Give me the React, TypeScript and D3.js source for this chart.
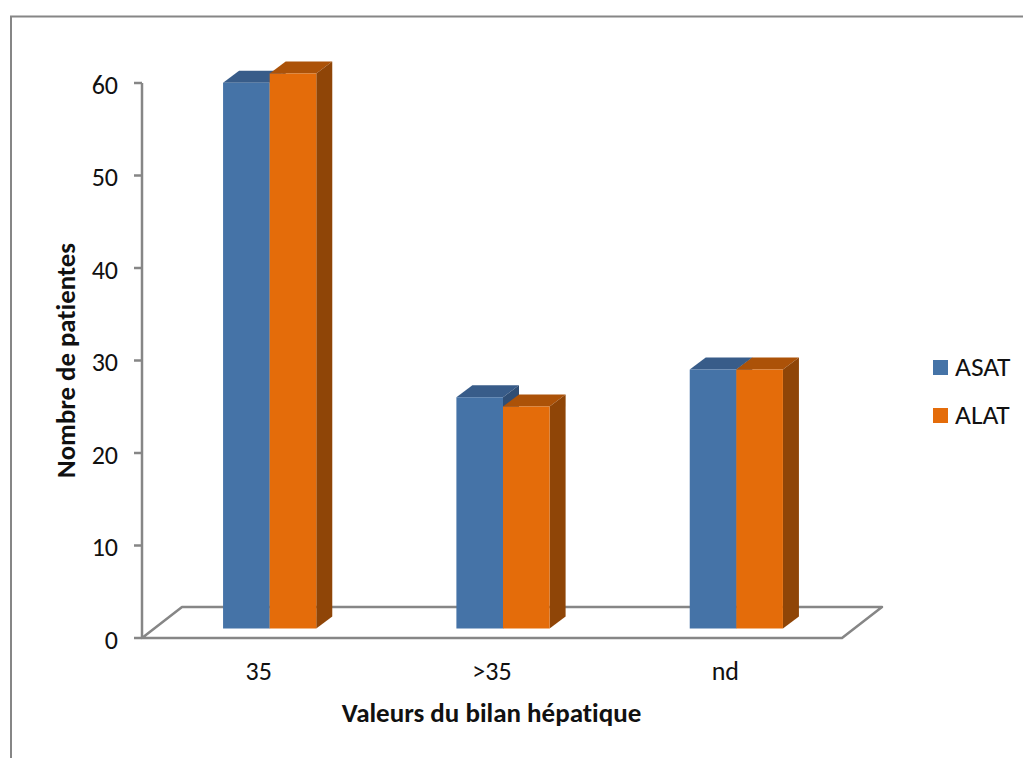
import React from "react";
import * as d3 from "d3";

const categories = ["35", ">35", "nd"];
const seriesNames = ["ASAT", "ALAT"];
const asatValues = [59, 25, 28];
const alatValues = [60, 24, 28];
const valueTicks = [0, 10, 20, 30, 40, 50, 60];

const FONT = "Carlito, Calibri, Lato, sans-serif";
const GREY = "#868686";
const faceColors = [
  { front: "#4573A7", top: "#385C89", side: "#2F4E75" },
  { front: "#E46C0A", top: "#AC5208", side: "#8F4507" },
];

// Oblique projection: the floor recedes by these offsets, bars sit a little way in.
const floorDepth = { x: 40, y: -31 };
const barInset = { x: 11, y: -9.5 };
const barDepth = { x: 16, y: -12 };

const y = d3.scaleLinear().domain([0, 60]).range([638, 83]);
const x = d3.scaleBand().domain(categories).range([142, 842]);
const halfBar = 46.6;

function Bar({ left, width, value, colors }) {
  const top = y(value) + barInset.y;
  const bottom = y(0) + barInset.y;
  const right = left + width;
  const { x: dx, y: dy } = barDepth;
  const poly = (pts) => pts.map((p) => p.join(",")).join(" ");
  return (
    <g>
      <polygon
        points={poly([[left, top], [left + dx, top + dy], [right + dx, top + dy], [right, top]])}
        fill={colors.top}
      />
      <polygon
        points={poly([[right, top], [right + dx, top + dy], [right + dx, bottom + dy], [right, bottom]])}
        fill={colors.side}
      />
      <rect x={left} y={top} width={width} height={bottom - top} fill={colors.front} />
    </g>
  );
}

export default function App() {
  const x0 = x.range()[0];
  const x1 = x.range()[1];
  const base = y(0);
  const floor = [
    [x0, base],
    [x0 + floorDepth.x, base + floorDepth.y],
    [x1 + floorDepth.x, base + floorDepth.y],
    [x1, base],
  ];
  return (
    <svg
      width={1023}
      height={758}
      style={{ position: "absolute", left: 0, top: 0, background: "#fff", fontVariantLigatures: "none" }}
      fontFamily={FONT}
      fill="#111"
    >
      {/* outer frame: top and left edges only */}
      <path d="M11 758V16.5H1023" fill="none" stroke={GREY} strokeWidth={2} />

      {/* floor and value axis */}
      <polygon
        points={floor.map((p) => p.join(",")).join(" ")}
        fill="none"
        stroke={GREY}
        strokeWidth={2.5}
        strokeLinejoin="round"
      />
      <line x1={x0} x2={x0} y1={y(60)} y2={base} stroke={GREY} strokeWidth={2.5} />
      {valueTicks.map((t) => (
        <g key={t}>
          <line x1={134} x2={x0} y1={y(t)} y2={y(t)} stroke={GREY} strokeWidth={2.5} />
          <text x={118} y={y(t) + 10.5} textAnchor="end" fontSize={26}>
            {t}
          </text>
        </g>
      ))}

      {/* bars, back to front within each group */}
      {categories.map((c, i) => {
        const centre = x(c) + x.bandwidth() / 2 + barInset.x;
        return (
          <g key={c}>
            <Bar left={centre - halfBar} width={halfBar} value={asatValues[i]} colors={faceColors[0]} />
            <Bar left={centre} width={halfBar} value={alatValues[i]} colors={faceColors[1]} />
            <text x={centre - barInset.x} y={680} textAnchor="middle" fontSize={26}>
              {c}
            </text>
          </g>
        );
      })}

      {/* axis titles */}
      <text x={491.5} y={722} textAnchor="middle" fontSize={27} fontWeight="bold">
        Valeurs du bilan hépatique
      </text>
      <text
        transform="translate(74.5,360.5) rotate(-90)"
        textAnchor="middle"
        fontSize={26.8}
        fontWeight="bold"
      >
        Nombre de patientes
      </text>

      {/* legend */}
      {seriesNames.map((name, i) => (
        <g key={name}>
          <rect x={933} y={360 + i * 48} width={15} height={15} fill={faceColors[i].front} />
          <text x={955} y={376 + i * 47.5} fontSize={27.5}>
            {name}
          </text>
        </g>
      ))}
    </svg>
  );
}
